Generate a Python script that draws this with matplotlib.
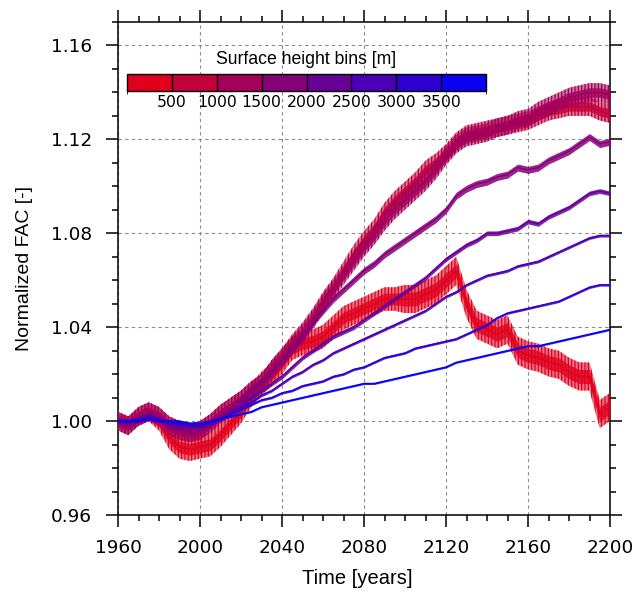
import numpy as np
import matplotlib
matplotlib.use("Agg")
import matplotlib.pyplot as plt
from matplotlib.colors import ListedColormap, BoundaryNorm, to_rgba
from matplotlib.cm import ScalarMappable
from matplotlib.ticker import MultipleLocator

plt.rcParams['font.family'] = ['Liberation Sans', 'DejaVu Sans']
plt.rcParams['hatch.linewidth'] = 0.9

# ---------------- data (5-year nodes) ----------------
years = list(range(1960, 2201, 5))

bin_edges = [0, 500, 1000, 1500, 2000, 2500, 3000, 3500, 4000]
bin_ticks = [500, 1000, 1500, 2000, 2500, 3000, 3500]
bin_colors = ['#E0001E', '#C2003C', '#A4005A', '#860078', '#680096',
              '#4A00B4', '#2C00D2', '#0A00F2']

fac_bin0 = [1.000, 0.999, 1.001, 1.003, 0.999, 0.993, 0.989, 0.988, 0.989,
            0.990, 0.994, 0.999, 1.004, 1.011, 1.016, 1.020, 1.025, 1.031, 1.033, 1.034,
            1.036, 1.040, 1.044, 1.046, 1.048, 1.050, 1.052, 1.052, 1.052,
            1.052, 1.054, 1.056, 1.060, 1.064, 1.050, 1.041, 1.039, 1.037, 1.039,
            1.030, 1.028, 1.027, 1.025, 1.024, 1.021, 1.019, 1.019, 1.003, 1.006]
fac_bin1 = [1.000, 0.998, 1.002, 1.004, 1.002, 0.998, 0.996, 0.995, 0.996,
            0.999, 1.003, 1.006, 1.009, 1.013, 1.016, 1.022, 1.027, 1.033, 1.038, 1.044,
            1.051, 1.057, 1.064, 1.071, 1.077, 1.082, 1.089, 1.094, 1.098,
            1.102, 1.107, 1.110, 1.114, 1.119, 1.122, 1.123, 1.124, 1.125, 1.126,
            1.127, 1.128, 1.130, 1.132, 1.133, 1.134, 1.134, 1.134, 1.132, 1.131]
fac_bin2 = [1.000, 0.998, 1.002, 1.004, 1.002, 0.998, 0.996, 0.995, 0.996,
            0.999, 1.003, 1.006, 1.009, 1.013, 1.016, 1.022, 1.027, 1.032, 1.037, 1.043,
            1.050, 1.056, 1.062, 1.068, 1.074, 1.079, 1.085, 1.090, 1.094,
            1.098, 1.102, 1.107, 1.113, 1.118, 1.121, 1.122, 1.123, 1.125, 1.126,
            1.128, 1.129, 1.132, 1.134, 1.136, 1.138, 1.139, 1.140, 1.140, 1.139]
fac_bin3 = [1.000, 0.999, 1.001, 1.003, 1.001, 0.998, 0.997, 0.996, 0.997,
            0.999, 1.002, 1.005, 1.009, 1.013, 1.017, 1.021, 1.026, 1.031, 1.036, 1.042,
            1.047, 1.052, 1.056, 1.060, 1.064, 1.067, 1.071, 1.074, 1.077,
            1.080, 1.083, 1.086, 1.090, 1.096, 1.099, 1.101, 1.102, 1.104, 1.105,
            1.108, 1.107, 1.108, 1.111, 1.113, 1.115, 1.118, 1.121, 1.118, 1.119]
fac_bin4 = [1.000, 1.000, 1.001, 1.002, 1.001, 0.999, 0.998, 0.998, 0.998,
            0.999, 1.001, 1.004, 1.007, 1.010, 1.013, 1.016, 1.019, 1.023, 1.027, 1.030,
            1.033, 1.036, 1.038, 1.040, 1.043, 1.046, 1.049, 1.052, 1.055,
            1.058, 1.061, 1.065, 1.069, 1.072, 1.075, 1.077, 1.080, 1.080, 1.081,
            1.082, 1.085, 1.084, 1.087, 1.089, 1.091, 1.094, 1.097, 1.098, 1.097]
fac_bin5 = [1.000, 1.000, 1.001, 1.002, 1.001, 0.999, 0.999, 0.998, 0.998,
            0.999, 1.001, 1.003, 1.006, 1.008, 1.011, 1.013, 1.016, 1.019, 1.021, 1.024,
            1.026, 1.029, 1.031, 1.033, 1.035, 1.037, 1.039, 1.041, 1.043,
            1.045, 1.047, 1.050, 1.053, 1.055, 1.058, 1.060, 1.062, 1.063, 1.064,
            1.066, 1.067, 1.068, 1.070, 1.072, 1.074, 1.076, 1.078, 1.079, 1.079]
fac_bin6 = [1.000, 1.000, 1.000, 1.001, 1.000, 1.000, 0.999, 0.999, 0.999,
            1.000, 1.001, 1.003, 1.005, 1.007, 1.009, 1.010, 1.012, 1.013, 1.015, 1.016,
            1.017, 1.019, 1.020, 1.022, 1.023, 1.025, 1.027, 1.028, 1.029,
            1.031, 1.032, 1.033, 1.034, 1.035, 1.037, 1.039, 1.041, 1.044, 1.046,
            1.047, 1.048, 1.049, 1.050, 1.051, 1.053, 1.055, 1.057, 1.058, 1.058]
fac_bin7 = [1.000, 1.000, 1.000, 1.001, 1.000, 1.000, 1.000, 0.999, 0.999,
            1.000, 1.001, 1.002, 1.003, 1.004, 1.006, 1.007, 1.008, 1.009, 1.010, 1.011,
            1.012, 1.013, 1.014, 1.015, 1.016, 1.016, 1.017, 1.018, 1.019,
            1.020, 1.021, 1.022, 1.023, 1.025, 1.026, 1.027, 1.028, 1.029, 1.030,
            1.031, 1.032, 1.032, 1.033, 1.034, 1.035, 1.036, 1.037, 1.038, 1.039]

# half-width of the seasonal oscillation band of each series
spread_bin0 = [0.003] * 5 + [0.005] * 23 + [0.006] * 21
spread_other = [0.004, 0.004, 0.0015, 0.001, 0.0006, 0.0005, 0.0004]

series = [fac_bin0, fac_bin1, fac_bin2, fac_bin3, fac_bin4, fac_bin5, fac_bin6, fac_bin7]
spreads = [spread_bin0] + [[s] * len(years) for s in spread_other]

# ---------------- figure ----------------
W, H = 636, 597
fig = plt.figure(figsize=(W / 100, H / 100), dpi=100)
ax = fig.add_axes([118 / W, 82 / H, 492 / W, 493 / H])

t = np.array(years, dtype=float)
for vals, spr, col in zip(series, spreads, bin_colors):
    v = np.array(vals)
    s = np.array(spr)
    if s.max() >= 0.003:
        ax.fill_between(t, v - s, v + s, facecolor=to_rgba(col, 0.55),
                        edgecolor=col, hatch='|||||', lw=0, zorder=3)
        ax.fill_between(t, v - 0.5 * s, v + 0.5 * s, color=col, alpha=0.8,
                        lw=0, zorder=3)
    else:
        ax.fill_between(t, v - s, v + s, color=col, alpha=0.85, lw=0, zorder=3)
    ax.plot(t, v, color=col, lw=1.1, zorder=3)

ax.set_xlim(1960, 2200)
ax.set_ylim(0.96, 1.17)
ax.xaxis.set_major_locator(MultipleLocator(40))
ax.xaxis.set_minor_locator(MultipleLocator(10))
ax.set_yticks([0.96, 1.00, 1.04, 1.08, 1.12, 1.16])
ax.set_yticklabels(['0.96', '1.00', '1.04', '1.08', '1.12', '1.16'])
ax.yaxis.set_minor_locator(MultipleLocator(0.01))

ax.tick_params(which='both', direction='out', top=True, right=True, width=1.1,
               color='black')
ax.tick_params(which='major', length=8.6)
ax.tick_params(which='minor', length=4.3)
ax.tick_params(axis='y', which='major', pad=10)
ax.tick_params(axis='x', which='major', pad=9)
for lab in ax.get_xticklabels() + ax.get_yticklabels():
    lab.set_fontfamily(['DejaVu Sans'])
    lab.set_fontsize(13.3)
for sp in ax.spines.values():
    sp.set_linewidth(1.1)

ax.grid(True, which='major', linestyle=(0, (3, 3)), color='#8a8a8a', lw=0.8, zorder=1)

ax.set_xlabel('Time [years]', fontsize=14.5)
ax.set_ylabel('Normalized FAC [-]', fontsize=14)
ax.xaxis.set_label_coords(0.486, -0.110)
ax.yaxis.set_label_coords(-0.172, 0.5)

# ---------------- colorbar ----------------
cax = fig.add_axes([127 / W, (H - 91) / H, 359 / W, 17 / H])
cmap = ListedColormap(bin_colors)
norm = BoundaryNorm(bin_edges, cmap.N)
cb = fig.colorbar(ScalarMappable(norm=norm, cmap=cmap), cax=cax,
                  orientation='horizontal', ticks=bin_ticks, drawedges=True)
cb.outline.set_linewidth(1.0)
cb.dividers.set_linewidth(1.0)
cax.tick_params(length=0, pad=3)
cax.set_xticklabels([str(v) for v in bin_ticks])
for lab in cax.get_xticklabels():
    lab.set_fontfamily(['DejaVu Sans'])
    lab.set_fontsize(11.3)
fig.text(306.5 / W, 1 - 59 / H, 'Surface height bins [m]', ha='center', va='center',
         fontsize=12.7)

fig.savefig('out.png', dpi=100)
